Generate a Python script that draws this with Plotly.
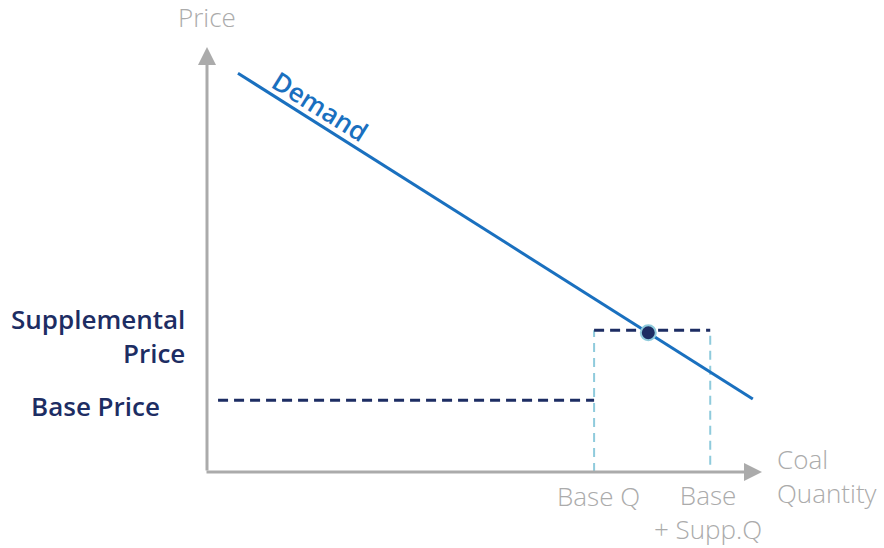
import plotly.graph_objects as go

# ---- data (plot units) ----
demand_x = [0.56, 9.87]
demand_y = [9.45, 1.73]
base_q = 7.0
base_supp_q = 9.1
base_price = 1.70
supp_price = 3.36
eq_point = (7.98, 3.30)

NAVY = "#1d2d63"
BLUE = "#1a70bf"
LIGHT = "#8fcbdc"
GRAY = "#ababab"
FONT = "Open Sans"

W, H = 884, 548
X0, Y0, X1, Y1 = 207, 472, 760, 50   # plot area in page pixels
L, T = X0, Y1
R, B = W - X1, H - Y0
PW, PH = X1 - X0, Y0 - Y1

def qx(xp):  # page px -> paper
    return (xp - X0) / PW
def qy(yp):
    return (Y0 - yp) / PH

fig = go.Figure()

fig.add_trace(go.Scatter(x=[base_q, base_q], y=[0, supp_price], mode="lines",
                         line=dict(color=LIGHT, width=2, dash="9px,6px"), hoverinfo="skip"))
fig.add_trace(go.Scatter(x=[base_supp_q, base_supp_q], y=[0.17, supp_price], mode="lines",
                         line=dict(color=LIGHT, width=2, dash="9px,6px"), hoverinfo="skip"))
fig.add_trace(go.Scatter(x=[0.2, base_q], y=[base_price, base_price], mode="lines",
                         line=dict(color=NAVY, width=3, dash="10px,6px"), hoverinfo="skip"))
fig.add_trace(go.Scatter(x=[base_q, base_supp_q], y=[supp_price, supp_price], mode="lines",
                         line=dict(color=NAVY, width=3, dash="10px,6px"), hoverinfo="skip"))
fig.add_trace(go.Scatter(x=demand_x, y=demand_y, mode="lines",
                         line=dict(color=BLUE, width=3), hoverinfo="skip"))
fig.add_trace(go.Scatter(x=[eq_point[0]], y=[eq_point[1]], mode="markers",
                         marker=dict(color=NAVY, size=15, line=dict(color=LIGHT, width=2)),
                         hoverinfo="skip"))

def lab(xp, yp, text, color, size=26, weight=300, xanchor="center", align="center", angle=0):
    return dict(x=qx(xp), y=qy(yp), xref="paper", yref="paper", text=text, showarrow=False,
                font=dict(family=FONT, size=size, color=color, weight=weight), xanchor=xanchor,
                yanchor="middle", align=align, textangle=angle)

annotations = [
    dict(x=qx(207), y=qy(47), ax=0, ay=472 - 47, xref="paper", yref="paper",
         showarrow=True, arrowhead=2, arrowsize=1.2, arrowwidth=3, arrowcolor=GRAY, text=""),
    dict(x=qx(762), y=qy(472), ax=-(762 - 205), ay=0, xref="paper", yref="paper",
         showarrow=True, arrowhead=2, arrowsize=1.2, arrowwidth=3, arrowcolor=GRAY, text=""),
    lab(207, 17, "Price", GRAY),
    lab(775, 476, "Coal<br>Quantity", GRAY, xanchor="left", align="left"),
    lab(598, 496, "Base Q", GRAY),
    lab(708, 512, "Base<br>+ Supp.Q", GRAY),
    lab(187, 336, "Supplemental<br>Price", NAVY, size=26, weight=600, xanchor="right", align="right"),
    lab(95, 406, "Base Price", NAVY, size=26, weight=600),
    lab(320, 106, "Demand", BLUE, size=26, weight=600, angle=32),
]

fig.update_layout(
    width=W, height=H,
    margin=dict(l=L, r=R, t=T, b=B, pad=0),
    paper_bgcolor="white", plot_bgcolor="white",
    showlegend=False,
    xaxis=dict(range=[0, 10], visible=False, fixedrange=True),
    yaxis=dict(range=[0, 10], visible=False, fixedrange=True),
    annotations=annotations,
)

fig.write_html("out.html", config={"displayModeBar": False},
               post_script="document.body.style.margin='0';")
